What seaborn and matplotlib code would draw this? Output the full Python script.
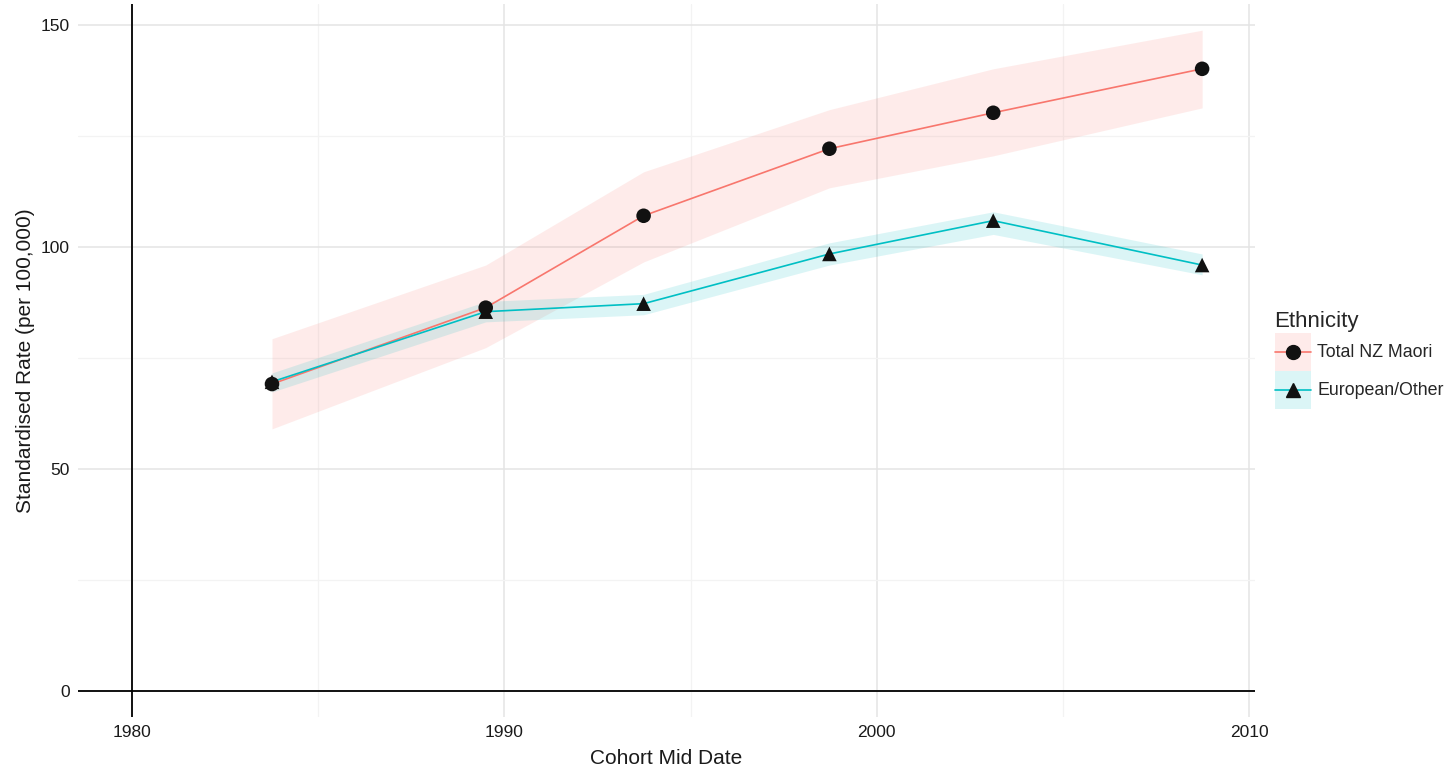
import numpy as np
import pandas as pd
import seaborn as sns
import matplotlib
matplotlib.use("Agg")
import matplotlib.pyplot as plt
from matplotlib.patches import Patch
from matplotlib.lines import Line2D
from matplotlib.legend_handler import HandlerTuple, HandlerLine2D

# ---- data ----
years = [1983.76, 1989.5, 1993.74, 1998.73, 2003.13, 2008.74]
maori_rate = [69.1, 86.3, 107.0, 122.1, 130.2, 140.1]
maori_lo = [59.0, 77.3, 96.6, 113.3, 120.5, 131.3]
maori_hi = [79.3, 95.9, 116.9, 130.9, 140.1, 148.8]
euro_rate = [69.6, 85.4, 87.2, 98.4, 105.9, 95.9]
euro_lo = [67.3, 83.1, 84.7, 95.9, 102.8, 93.7]
euro_hi = [71.6, 87.7, 89.3, 100.9, 107.9, 98.4]
groups = ["Total NZ Maori", "European/Other"]
x_ticks = [1980, 1990, 2000, 2010]
y_ticks = [0, 50, 100, 150]

df = pd.DataFrame({
    "year": years * 2,
    "rate": maori_rate + euro_rate,
    "lo": maori_lo + euro_lo,
    "hi": maori_hi + euro_hi,
    "Ethnicity": [groups[0]] * len(years) + [groups[1]] * len(years),
})

colors = {"Total NZ Maori": "#F8766D", "European/Other": "#00BFC4"}
markers = {"Total NZ Maori": "o", "European/Other": "^"}

sns.set_style("white")
plt.rcParams["font.family"] = ["Liberation Sans", "DejaVu Sans"]

fig = plt.figure(figsize=(14.5, 7.7), dpi=100)
ax = fig.add_axes([78 / 1450, 53 / 770, (1255 - 78) / 1450, (717 - 4) / 770])

# grid
ax.set_xlim(1978.55, 2010.16)
ax.set_ylim(-5.9, 154.7)
ax.set_xticks(x_ticks)
ax.set_yticks(y_ticks)
ax.set_xticks([1985, 1995, 2005], minor=True)
ax.set_yticks([25, 75, 125], minor=True)
ax.grid(True, which="major", color="#E4E4E4", lw=1.1, zorder=0)
ax.grid(True, which="minor", color="#F3F3F3", lw=0.9, zorder=0)
ax.set_axisbelow(True)
for s in ax.spines.values():
    s.set_visible(False)
ax.tick_params(which="both", length=0, labelsize=12.5, colors="#1a1a1a", pad=6)

# reference lines
ax.axhline(0, color="black", lw=1.3, zorder=1)
ax.axvline(1980, color="black", lw=1.3, zorder=1)

# ribbons
for g in groups:
    sub = df[df["Ethnicity"] == g]
    ax.fill_between(sub["year"], sub["lo"], sub["hi"], color=colors[g],
                    alpha=0.14, lw=0, zorder=2)

# lines
sns.lineplot(data=df, x="year", y="rate", hue="Ethnicity", palette=colors,
             hue_order=groups, lw=1.2, ax=ax, legend=False, zorder=3,
             estimator=None, sort=True)
# points
sns.scatterplot(data=df, x="year", y="rate", style="Ethnicity",
                markers=markers, style_order=groups, color="#111111",
                s=110, edgecolor="none", ax=ax, legend=False, zorder=4)

ax.set_xlabel("Cohort Mid Date", fontsize=15, color="#1a1a1a", labelpad=6)
ax.set_ylabel("Standardised Rate (per 100,000)", fontsize=15,
              color="#1a1a1a", labelpad=4)


class CenteredLine(HandlerLine2D):
    def create_artists(self, legend, orig_handle, xdescent, ydescent,
                       width, height, fontsize, trans):
        arts = super().create_artists(legend, orig_handle, xdescent, ydescent,
                                      width, height, fontsize, trans)
        yc = height / 2.0 - ydescent
        for a in arts:
            n = len(a.get_ydata())
            a.set_ydata([yc] * n)
        return arts


# legend
handles = []
for g in groups:
    p = Patch(facecolor=colors[g], alpha=0.14, edgecolor="none")
    ln = Line2D([0], [0], color=colors[g], lw=1.2, marker=markers[g],
                markerfacecolor="#111111", markeredgecolor="#111111",
                markersize=10)
    handles.append((p, ln))
leg = fig.legend(handles, groups, title="Ethnicity",
                 handler_map={tuple: HandlerTuple(ndivide=1, pad=0),
                              Line2D: CenteredLine()},
                 loc="upper left", bbox_to_anchor=(1271 / 1450, 1 - 307 / 770),
                 frameon=False, fontsize=12.8, title_fontsize=16,
                 handlelength=2.05, handleheight=2.9, handletextpad=0.35,
                 labelspacing=0.0, borderpad=0.2, borderaxespad=0)
leg._legend_box.align = "left"
leg._legend_box.sep = 1

fig.savefig("out.png", dpi=100, facecolor="white")
